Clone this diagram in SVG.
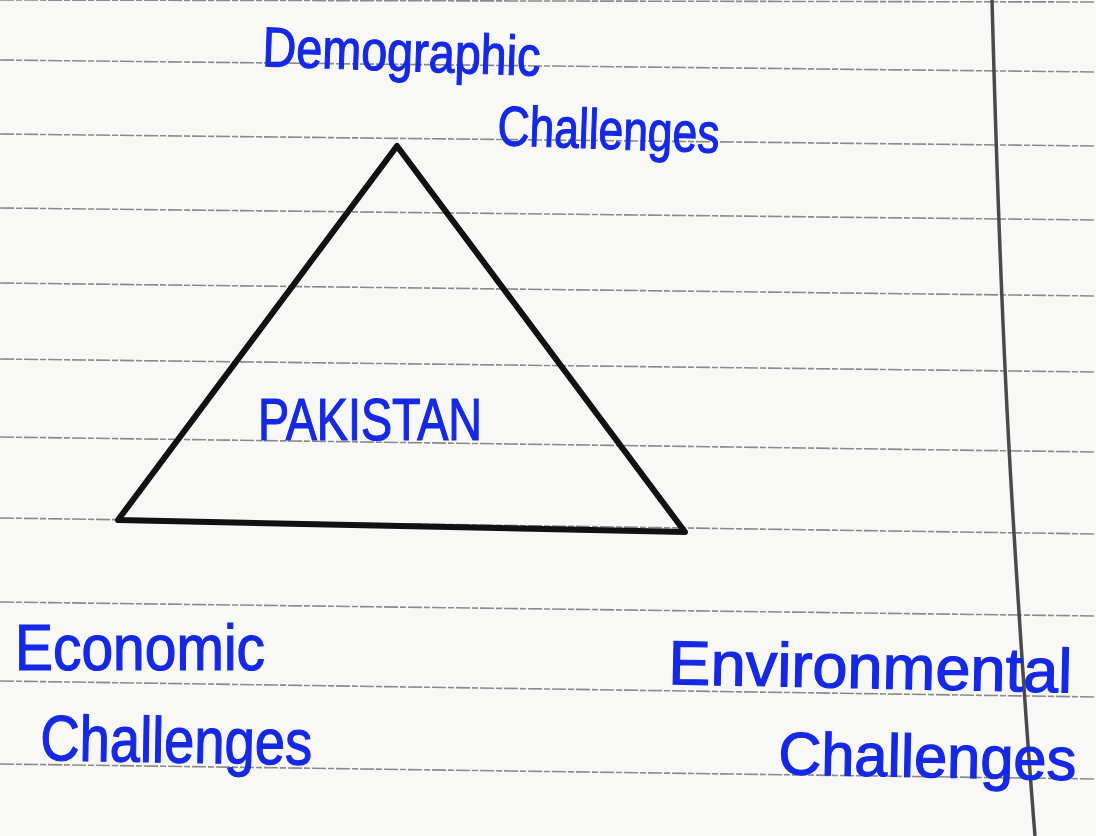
<svg xmlns="http://www.w3.org/2000/svg" width="1096" height="836" viewBox="0 0 1096 836">
  <style>
    .rule { stroke: #8a8a8a; stroke-width: 1.6; fill: none; stroke-dasharray: 14 2 6 2; }
    .margin { stroke: #4a4a4a; stroke-width: 3.5; fill: none; }
    .ink { fill: #1428e6; stroke: #1428e6; stroke-width: 1.2; font-family: "Liberation Sans", "DejaVu Sans", sans-serif; }
    .tri { stroke: #111; stroke-width: 6; fill: none; stroke-linejoin: round; stroke-linecap: round; }
  </style>
  <rect width="1096" height="836" fill="#f8f8f6"/>
  <g id="paper">
    <line class="rule" x1="0" y1="0" x2="1096" y2="2"/>
    <line class="rule" x1="0" y1="60" x2="1096" y2="72"/>
    <line class="rule" x1="0" y1="134" x2="1096" y2="146"/>
    <line class="rule" x1="0" y1="208" x2="1096" y2="220"/>
    <line class="rule" x1="0" y1="283" x2="1096" y2="296"/>
    <line class="rule" x1="0" y1="359" x2="1096" y2="372"/>
    <line class="rule" x1="0" y1="437" x2="1096" y2="452"/>
    <line class="rule" x1="0" y1="518" x2="1096" y2="534"/>
    <line class="rule" x1="0" y1="602" x2="1096" y2="616"/>
    <line class="rule" x1="0" y1="681" x2="1096" y2="697"/>
    <line class="rule" x1="0" y1="764" x2="1096" y2="779"/>
    <path class="margin" d="M992 0 Q1000 300 1012 500 T1035 836"/>
  </g>
  <g id="pakistan-triangle">
    <path class="tri" d="M397 146 L118 520 L685 532 Z"/>
    <text class="ink" x="258" y="440" font-size="60" textLength="224" lengthAdjust="spacingAndGlyphs">PAKISTAN</text>
  </g>
  <g id="demographic">
    <text class="ink" transform="rotate(2 262 66)" x="262" y="66" font-size="56" textLength="278" lengthAdjust="spacingAndGlyphs">Demographic</text>
    <text class="ink" transform="rotate(2 497 145)" x="497" y="145" font-size="56" textLength="222" lengthAdjust="spacingAndGlyphs">Challenges</text>
  </g>
  <g id="economic">
    <text class="ink" x="15" y="670" font-size="64" textLength="250" lengthAdjust="spacingAndGlyphs">Economic</text>
    <text class="ink" transform="rotate(1 40 760)" x="40" y="760" font-size="64" textLength="272" lengthAdjust="spacingAndGlyphs">Challenges</text>
  </g>
  <g id="environmental">
    <text class="ink" transform="rotate(1.2 668 684)" x="668" y="684" font-size="62" textLength="404" lengthAdjust="spacingAndGlyphs">Environmental</text>
    <text class="ink" transform="rotate(1.2 778 774)" x="778" y="774" font-size="60" textLength="298" lengthAdjust="spacingAndGlyphs">Challenges</text>
  </g>
</svg>
